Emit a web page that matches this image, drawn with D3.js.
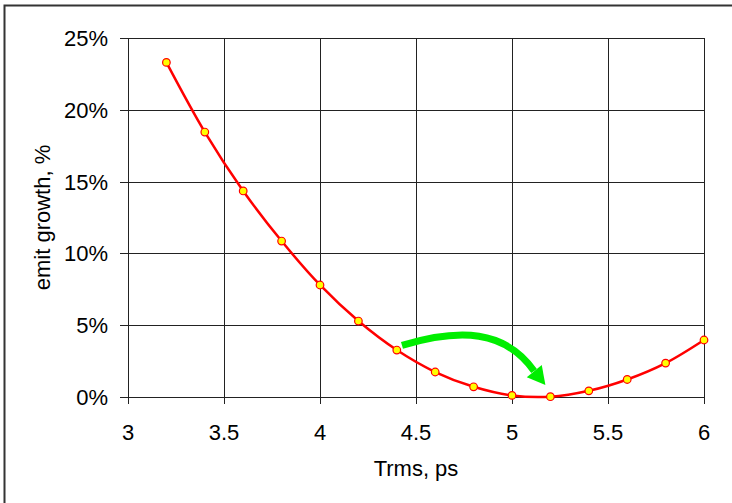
<!DOCTYPE html>
<html>
<head>
<meta charset="utf-8">
<script src="https://cdn.jsdelivr.net/npm/d3@7"></script>
<style>
  body { margin: 0; background: #fff; }
  text { font-family: "Liberation Sans", Arial, sans-serif; fill: #000; }
</style>
</head>
<body>
<div id="chart"></div>
<script>
// data
const trms = [3.2, 3.4, 3.6, 3.8, 4.0, 4.2, 4.4, 4.6, 4.8, 5.0, 5.2, 5.4, 5.6, 5.8, 6.0];
const emitGrowth = [0.233, 0.1845, 0.1435, 0.1086, 0.078, 0.0529, 0.0327, 0.0174, 0.0071, 0.0011, 0.0002, 0.0043, 0.0122, 0.0236, 0.0397];
const xTicks = [3, 3.5, 4, 4.5, 5, 5.5, 6];
const yTicks = [0, 0.05, 0.10, 0.15, 0.20, 0.25];

// green annotation arrow (data units: x in ps, y as fraction)
const arrowShaft = [[4.427, 0.0359], [4.729, 0.0480], [4.964, 0.0467], [5.115, 0.0181]];
const arrowHead = [[5.077, 0.0137], [5.174, 0.0084], [5.155, 0.0223]];

const W = 732, H = 503;
const margin = {top: 38, right: 28, bottom: 106, left: 128};
const width = W - margin.left - margin.right;
const height = H - margin.top - margin.bottom;

const svg = d3.select("#chart").append("svg")
    .attr("width", W)
    .attr("height", H);

// outer frame (right/bottom run off the picture)
svg.append("rect")
    .attr("x", 4.5).attr("y", 5.5)
    .attr("width", W + 20).attr("height", H + 20)
    .attr("fill", "none")
    .attr("stroke", "#333")
    .attr("stroke-width", 2);

const g = svg.append("g")
    .attr("transform", `translate(${margin.left},${margin.top})`);

const x = d3.scaleLinear().domain([3, 6]).range([0, width]);
const y = d3.scaleLinear().domain([0, 0.25]).range([height, 0]);

// grid
g.append("g").selectAll("line.vg")
    .data(xTicks).enter().append("line")
    .attr("x1", d => Math.round(x(d)) + 0.5).attr("x2", d => Math.round(x(d)) + 0.5)
    .attr("y1", 0).attr("y2", height + 7)
    .attr("stroke", "#222").attr("stroke-width", 1);

g.append("g").selectAll("line.hg")
    .data(yTicks).enter().append("line")
    .attr("y1", d => Math.round(y(d)) + 0.5).attr("y2", d => Math.round(y(d)) + 0.5)
    .attr("x1", -8).attr("x2", width + 0.5)
    .attr("stroke", "#222").attr("stroke-width", 1);

// tick labels
g.append("g").selectAll("text")
    .data(xTicks).enter().append("text")
    .attr("x", d => x(d))
    .attr("y", height + 43)
    .attr("text-anchor", "middle")
    .attr("font-size", 22)
    .text(d => d);

g.append("g").selectAll("text")
    .data(yTicks).enter().append("text")
    .attr("x", -20)
    .attr("y", d => y(d))
    .attr("dy", "0.36em")
    .attr("text-anchor", "end")
    .attr("font-size", 22)
    .text(d => d3.format(".0%")(d));

// axis titles
g.append("text")
    .attr("x", width / 2)
    .attr("y", height + 79)
    .attr("text-anchor", "middle")
    .attr("font-size", 22)
    .text("Trms, ps");

svg.append("text")
    .attr("transform", `translate(50,${margin.top + height / 2}) rotate(-90)`)
    .attr("text-anchor", "middle")
    .attr("font-size", 22)
    .text("emit growth, %");

// series
const pts = trms.map((d, i) => [d, emitGrowth[i]]);

const line = d3.line()
    .x(d => x(d[0]))
    .y(d => y(d[1]))
    .curve(d3.curveCatmullRom.alpha(0.5));

g.append("path")
    .datum(pts)
    .attr("d", line)
    .attr("fill", "none")
    .attr("stroke", "#ff0000")
    .attr("stroke-width", 2.5);

g.selectAll("circle")
    .data(pts).enter().append("circle")
    .attr("cx", d => x(d[0]))
    .attr("cy", d => y(d[1]))
    .attr("r", 3.8)
    .attr("fill", "#ffff00")
    .attr("stroke", "#ff0000")
    .attr("stroke-width", 1.2);

// green arrow
const s = arrowShaft.map(d => [x(d[0]), y(d[1])]);
g.append("path")
    .attr("d", `M${s[0]}C${s[1]} ${s[2]} ${s[3]}`)
    .attr("fill", "none")
    .attr("stroke", "#00ee00")
    .attr("stroke-width", 7);

g.append("path")
    .attr("d", "M" + arrowHead.map(d => [x(d[0]), y(d[1])]).join("L") + "Z")
    .attr("fill", "#00ee00");
</script>
</body>
</html>
